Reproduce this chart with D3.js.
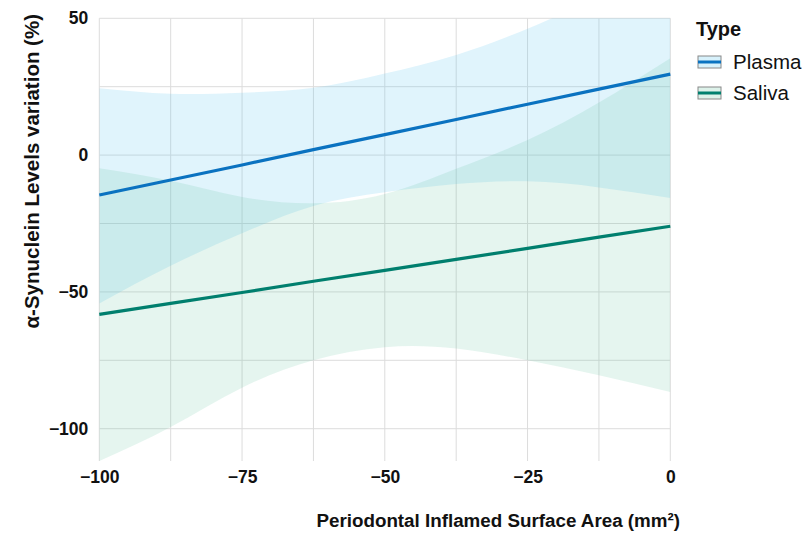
<!DOCTYPE html>
<html>
<head>
<meta charset="utf-8">
<script src="https://cdn.jsdelivr.net/npm/d3@7"></script>
<style>
  body { margin: 0; background: #fff; }
  svg { display: block; font-family: "Liberation Sans", Arial, Helvetica, sans-serif; }
</style>
</head>
<body>
<svg id="chart" width="806" height="533"></svg>
<script>
// ---- data ----
const xs = [-100, -87.5, -75, -62.5, -50, -37.5, -25, -12.5, 0];
const plasmaFit   = [-14.6, -9.1, -3.6, 2.0, 7.5, 13.0, 18.6, 24.1, 29.6];
const plasmaUpper = [24.4, 22.4, 22.8, 24.6, 29.8, 36.6, 46.2, 58.5, 74.8];
const plasmaLower = [-54.2, -40.4, -28.6, -18.6, -13.6, -10.6, -9.6, -11.8, -15.7];
const salivaFit   = [-58.2, -54.2, -50.2, -46.1, -42.1, -38.1, -34.1, -30.0, -26.0];
const salivaUpper = [-4.8, -9.4, -15.3, -17.6, -14.2, -5.0, 5.5, 19.2, 35.4];
const salivaLower = [-111.8, -99.4, -85.0, -75.0, -70.2, -70.7, -75.0, -80.5, -86.6];
const seriesNames = ["Plasma", "Saliva"];
const xTicks = [-100, -75, -50, -25, 0];
const yTicks = [50, 0, -50, -100];
const xGrid = [-100, -87.5, -75, -62.5, -50, -37.5, -25, -12.5, 0];
const yGrid = [50, 25, 0, -25, -50, -75, -100];

const series = [
  { name: seriesNames[0], fit: plasmaFit, upper: plasmaUpper, lower: plasmaLower,
    line: "#0a72c0", fill: "rgb(100,200,240)", op: 0.2 },
  { name: seriesNames[1], fit: salivaFit, upper: salivaUpper, lower: salivaLower,
    line: "#007f6e", fill: "rgb(80,190,150)", op: 0.15 }
];

const svg = d3.select("#chart");
const x = d3.scaleLinear().domain([-100, 0]).range([99.3, 670.3]);
const y = d3.scaleLinear().domain([-111.8, 50]).range([461, 18.3]);

svg.append("defs").append("clipPath").attr("id", "clip")
  .append("rect")
  .attr("x", x(-100)).attr("y", y(50))
  .attr("width", x(0) - x(-100)).attr("height", y(-111.8) - y(50));

// gridlines
const grid = svg.append("g");
grid.selectAll("line.v").data(xGrid).join("line")
  .attr("x1", d => x(d)).attr("x2", d => x(d))
  .attr("y1", y(50)).attr("y2", y(-111.8))
  .attr("stroke", "#dcdcdc").attr("stroke-width", 1);
grid.selectAll("line.h").data(yGrid).join("line")
  .attr("x1", x(-100)).attr("x2", x(0))
  .attr("y1", d => y(d)).attr("y2", d => y(d))
  .attr("stroke", "#dcdcdc").attr("stroke-width", 1);

// bands
const area = d3.area()
  .x((d, i) => x(xs[i]))
  .y0(d => y(d[0])).y1(d => y(d[1]))
  .curve(d3.curveNatural);
const bands = svg.append("g").attr("clip-path", "url(#clip)");
series.forEach(s => {
  bands.append("path")
    .datum(xs.map((_, i) => [s.lower[i], s.upper[i]]))
    .attr("d", area)
    .attr("fill", s.fill).attr("fill-opacity", s.op);
});

// lines
const line = d3.line().x((d, i) => x(xs[i])).y(d => y(d));
series.forEach(s => {
  svg.append("path").datum(s.fit).attr("d", line)
    .attr("fill", "none").attr("stroke", s.line).attr("stroke-width", 3.2);
});

// axes
const yAxis = svg.append("g").attr("transform", `translate(${x(-100)},0)`)
  .call(d3.axisLeft(y).tickValues(yTicks).tickSize(0).tickPadding(11));
const xAxis = svg.append("g").attr("transform", `translate(0,${y(-111.8)})`)
  .call(d3.axisBottom(x).tickValues(xTicks).tickSize(0).tickPadding(10));
[xAxis, yAxis].forEach(g => {
  g.select(".domain").remove();
  g.selectAll("text").attr("font-size", 17.5).attr("font-weight", "bold")
    .attr("fill", "#111").attr("font-family", "Liberation Sans, Arial, sans-serif");
});

// axis titles
svg.append("text")
  .attr("transform", "translate(39,14) rotate(-90)")
  .attr("text-anchor", "end")
  .attr("font-size", 20.5).attr("font-weight", "bold").attr("fill", "#111")
  .text("α-Synuclein Levels variation (%)");
svg.append("text")
  .attr("x", 680).attr("y", 527)
  .attr("text-anchor", "end")
  .attr("font-size", 18.8).attr("font-weight", "bold").attr("fill", "#111")
  .text("Periodontal Inflamed Surface Area (mm²)");

// legend
const lg = svg.append("g");
lg.append("text").attr("x", 696).attr("y", 36)
  .attr("font-size", 20).attr("font-weight", "bold").attr("fill", "#111").text("Type");
const keyY = [62, 93];
series.forEach((s, i) => {
  const cy = keyY[i];
  lg.append("rect").attr("x", 698).attr("y", cy - 6).attr("width", 23).attr("height", 12)
    .attr("fill", "#fff").attr("stroke", "none");
  lg.append("rect").attr("x", 698).attr("y", cy - 6).attr("width", 23).attr("height", 12)
    .attr("fill", s.fill).attr("fill-opacity", s.op * 1.3)
    .attr("stroke", "#888").attr("stroke-width", 1);
  lg.append("line").attr("x1", 698).attr("x2", 721).attr("y1", cy).attr("y2", cy)
    .attr("stroke", s.line).attr("stroke-width", 3);
  lg.append("text").attr("x", 733).attr("y", cy + 7)
    .attr("font-size", 20.5).attr("fill", "#111").text(s.name);
});
</script>
</body>
</html>
